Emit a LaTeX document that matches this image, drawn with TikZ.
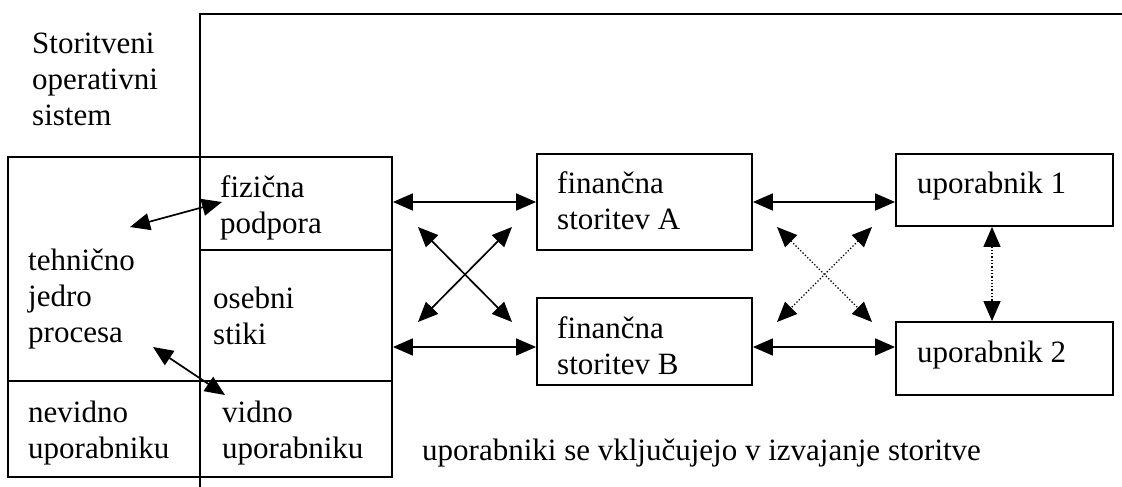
\documentclass[tikz,border=0pt]{standalone}
\usepackage{fontspec}
\setmainfont{Liberation Serif}
\usetikzlibrary{arrows.meta,calc}
\begin{document}
\begin{tikzpicture}[x=1pt,y=-1pt,
  box/.style={draw,line width=1.8pt,inner sep=0pt},
  txt/.style={inner sep=0pt,align=left,anchor=base west,font=\fontsize{31}{36}\selectfont},
  arr/.style={line width=1.7pt,{Triangle[length=20pt,width=17pt]}-{Triangle[length=20pt,width=17pt]}},
  darr/.style={arr,line width=1.3pt,dotted}]
\useasboundingbox (0,0) rectangle (1122,487);
% outer frame
\coordinate (fb) at (200,487);
\coordinate (ft) at (200,14);
\coordinate (fr) at (1122,14);
\draw[line width=1.8pt] (fb) -- (ft) -- (fr);
% left system cells
\node[box,minimum width=192pt,minimum height=224pt] (core) at (104,269) {};
\node[box,minimum width=192pt,minimum height=93pt] (phys) at (296,203.5) {};
\node[box,minimum width=192pt,minimum height=131pt] (pers) at (296,315.5) {};
\node[box,minimum width=192pt,minimum height=96pt] (invis) at (104,429) {};
\node[box,minimum width=192pt,minimum height=96pt] (vis) at (296,429) {};
% services and users
\node[box,minimum width=215pt,minimum height=96pt] (A) at (644.5,202) {};
\node[box,minimum width=215pt,minimum height=87pt] (B) at (644.5,341.5) {};
\node[box,minimum width=217pt,minimum height=72pt] (u1) at (1004.5,190) {};
\node[box,minimum width=217pt,minimum height=73pt] (u2) at (1004.5,358.5) {};
% texts
\node[txt] (ttitle) at (32,125) {Storitveni\\operativni\\sistem};
\node[txt] (tphys) at (220,233) {fizična\\podpora};
\node[txt] (tcore) at (28,342) {tehnično\\jedro\\procesa};
\node[txt] (tpers) at (213,344) {osebni\\stiki};
\node[txt] (tinvis) at (28,458) {nevidno\\uporabniku};
\node[txt] (tvis) at (222,458) {vidno\\uporabniku};
\node[txt] (tA) at (557,229) {finančna\\storitev A};
\node[txt] (tB) at (557,374) {finančna\\storitev B};
\node[txt] (tu1) at (917,193) {uporabnik 1};
\node[txt] (tu2) at (917,362) {uporabnik 2};
\node[txt] (tnote) at (422,460) {uporabniki se vključujejo v izvajanje storitve};
% inner arrows
\coordinate (i1) at (130,227);
\coordinate (i2) at (222,202);
\coordinate (i3) at (153,347);
\coordinate (i4) at (225,395);
\draw[arr] (i1) -- (i2);
\draw[arr] (i3) -- (i4);
% horizontal arrows
\draw[arr] (phys.east |- A.west) -- (A.west);
\draw[arr] ([yshift=-5.5pt]B.west -| pers.east) -- ([yshift=-5.5pt]B.west);
\draw[arr] ([yshift=-12pt]u1.west -| A.east) -- ([yshift=-12pt]u1.west);
\draw[arr] ([yshift=-5.5pt]B.east) -- ([yshift=-5.5pt]B.east -| u2.west);
% cross arrows
\coordinate (x1) at (418,227);
\coordinate (x2) at (512,322);
\coordinate (x3) at (512,227);
\coordinate (x4) at (418,322);
\draw[arr] (x1) -- (x2);
\draw[arr] (x3) -- (x4);
% dotted cross arrows
\coordinate (d1) at (777,227);
\coordinate (d2) at (872,322);
\coordinate (d3) at (872,227);
\coordinate (d4) at (777,322);
\draw[darr] (d1) -- (d2);
\draw[darr] (d3) -- (d4);
\draw[darr] ([xshift=-12.5pt]u1.south) -- ([xshift=-12.5pt]u2.north);
\end{tikzpicture}
\end{document}
